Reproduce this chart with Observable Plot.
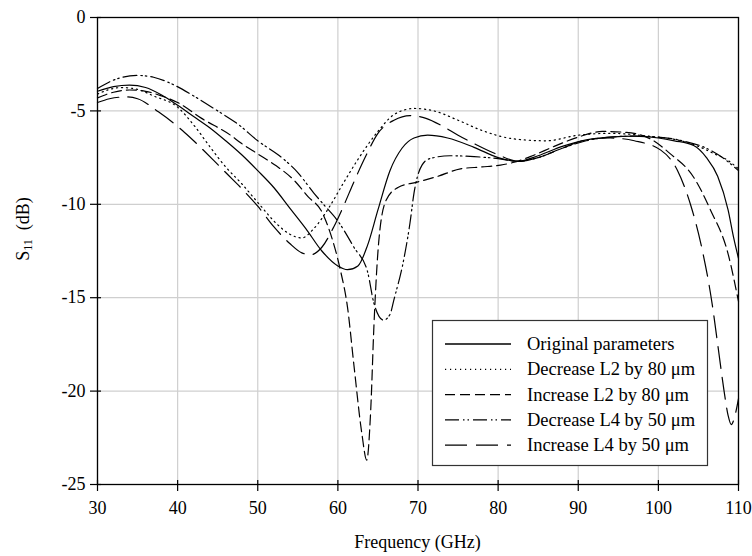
<!DOCTYPE html>
<html><head><meta charset="utf-8">
<script src="https://cdn.jsdelivr.net/npm/d3@7"></script>
<script src="https://cdn.jsdelivr.net/npm/@observablehq/plot@0.6"></script>
<style>
body{margin:0;background:#fff;}
#chart{position:relative;width:752px;height:556px;}
</style></head><body><div id="chart"></div>
<script>
// ---- data ----
const xTicks = [30, 40, 50, 60, 70, 80, 90, 100, 110];
const yTicks = [0, -5, -10, -15, -20, -25];
const seriesNames = ["Original parameters", "Decrease L2 by 80 μm", "Increase L2 by 80 μm", "Decrease L4 by 50 μm", "Increase L4 by 50 μm"];

const origF = [30, 32, 34, 36, 38, 40, 42, 44, 46, 48, 50, 52, 54, 56, 58, 60, 61.2, 62.5, 63.7, 65, 66.5, 68, 69.5, 71.2, 73.7, 77, 80, 82.5, 85, 88, 91, 94, 97, 100, 102, 104.4, 106, 107.4, 108.7, 109.4, 110];
const origS = [-3.95, -3.7, -3.62, -3.75, -4.15, -4.7, -5.3, -5.9, -6.6, -7.35, -8.2, -9.1, -10.2, -11.3, -12.5, -13.3, -13.5, -13.3, -12.2, -10.3, -8.2, -7.0, -6.45, -6.3, -6.45, -6.95, -7.5, -7.7, -7.4, -6.9, -6.55, -6.4, -6.35, -6.45, -6.6, -6.85, -7.5, -8.5, -10.3, -11.8, -12.9];

const decL2F = [30, 31.5, 33, 35, 37, 40, 42, 44, 46, 48, 50, 52.5, 54, 55.5, 57, 59, 60.5, 62.5, 65, 67, 69.5, 72, 75, 78, 82, 86, 90, 94, 98.7, 102.8, 105, 107, 108.5, 110];
const decL2S = [-4.1, -3.85, -3.75, -3.85, -4.2, -4.8, -5.75, -6.9, -8.0, -8.9, -9.9, -11.1, -11.6, -11.8, -11.3, -10.1, -9.0, -7.6, -6.1, -5.2, -4.87, -5.0, -5.5, -6.05, -6.5, -6.6, -6.3, -6.2, -6.35, -6.6, -6.9, -7.3, -7.6, -8.1];

const incL2F = [30, 32, 34, 36, 38, 40, 43, 46.6, 48, 50, 52, 54.5, 56.3, 58, 59.1, 60.3, 61.2, 62, 63, 63.6, 64.1, 64.5, 65.1, 66, 67.5, 70, 72.5, 75.3, 78, 80.3, 82, 84, 87, 90, 93, 96, 99, 101.5, 104.4, 106.5, 108.7, 110];
const incL2S = [-4.3, -4.0, -3.88, -3.95, -4.2, -4.55, -5.4, -6.3, -6.75, -7.3, -7.85, -8.7, -9.6, -10.4, -11.6, -13.5, -15.5, -18.6, -22.3, -23.7, -21.0, -16.5, -12.0, -9.8, -9.1, -8.8, -8.5, -8.1, -8.0, -7.9, -7.75, -7.45, -6.9, -6.4, -6.1, -6.15, -6.5, -7.3, -8.55, -10.3, -12.65, -15.2];

const decL4F = [30, 32, 35, 37, 39.5, 42, 45, 47.5, 50, 53, 55, 57, 58.2, 60, 62, 63.7, 64.5, 65.7, 66.5, 67, 68.2, 69, 69.5, 70.5, 71.5, 74, 77, 80, 82.5, 85, 88, 91, 94, 97, 100, 103, 106, 108, 110];
const decL4S = [-3.8, -3.35, -3.1, -3.2, -3.6, -4.2, -5.0, -5.7, -6.6, -7.5, -8.3, -9.4, -10.0, -10.9, -12.3, -13.6, -15.3, -16.2, -15.9, -15.1, -13.0, -11.0, -9.4, -7.9, -7.55, -7.4, -7.45, -7.55, -7.7, -7.5, -7.0, -6.6, -6.4, -6.35, -6.4, -6.6, -7.0, -7.5, -8.2];

const incL4F = [30, 31.5, 33.5, 35, 37.6, 40.6, 42, 44.5, 46, 48.2, 50, 52, 54, 55.5, 56.6, 58, 59.5, 60.7, 62, 63.5, 65, 67, 69, 71, 73, 75, 77, 80, 82.5, 85, 88, 91, 94, 97, 100.3, 102.4, 104, 105.3, 106.7, 107.5, 108.2, 108.7, 109.1, 109.5, 110];
const incL4S = [-4.55, -4.35, -4.25, -4.35, -5.05, -6.05, -6.6, -7.65, -8.3, -9.25, -10.1, -11.2, -12.1, -12.6, -12.7, -12.3, -11.2, -10.1, -8.8, -7.4, -6.2, -5.5, -5.25, -5.4, -5.8, -6.3, -6.75, -7.35, -7.7, -7.5, -7.0, -6.55, -6.45, -6.6, -7.1, -8.2, -10.0, -12.1, -15.3, -17.8, -20.0, -21.3, -21.8, -21.4, -20.4];

// ---- styles ----
const dashes = [null, "1.2,3.8", "10,5", "14,4,1.5,3,1.5,4", "22,9"];
const font = "'Liberation Serif','Times New Roman',serif";
const xDomain = [30, 110], yDomain = [-25, 0];

const series = [
  [origF, origS], [decL2F, decL2S], [incL2F, incL2S], [decL4F, decL4S], [incL4F, incL4S]
].map(([F, S], k) => ({name: seriesNames[k], dash: dashes[k], rows: F.map((f, i) => ({f, s: S[i]}))}));

const svg = Plot.plot({
  width: 752, height: 556,
  marginTop: 17, marginBottom: 72, marginLeft: 97, marginRight: 14,
  style: {fontFamily: font, fontSize: "18px", background: "#fff", color: "#000"},
  x: {domain: xDomain},
  y: {domain: yDomain},
  marks: [
    Plot.gridX(xTicks, {stroke: "#cfcfcf", strokeOpacity: 1, strokeWidth: 1.2}),
    Plot.gridY(yTicks, {stroke: "#cfcfcf", strokeOpacity: 1, strokeWidth: 1.2}),
    ...series.map(sr => Plot.line(sr.rows, {x: "f", y: "s", curve: "monotone-x", stroke: "#000", strokeWidth: 1.2, strokeDasharray: sr.dash})),
    Plot.frame({stroke: "#000", strokeWidth: 1.3}),
    Plot.ruleX(xTicks, {x: d => d, y1: yDomain[0], y2: yDomain[0], insetTop: -4, insetBottom: -7, stroke: "#000", strokeWidth: 1.2}),
    Plot.ruleY(yTicks, {y: d => d, x1: xDomain[0], x2: xDomain[0], insetLeft: -7, insetRight: -4, stroke: "#000", strokeWidth: 1.2}),
    Plot.axisX(xTicks, {tickSize: 0, tickPadding: 17, tickFormat: d => String(d), label: null, fontSize: 18}),
    Plot.axisY(yTicks, {tickSize: 0, tickPadding: 12, tickFormat: d => String(d), label: null, fontSize: 18})
  ]
});
document.getElementById("chart").appendChild(svg);

const s = d3.select(svg);
// axis titles
s.append("text").attr("x", 417.5).attr("y", 548).attr("text-anchor", "middle")
  .style("font-family", font).style("font-size", "18px").attr("fill", "#000").text("Frequency (GHz)");
const yl = s.append("text").attr("transform", "translate(29,229) rotate(-90)").attr("text-anchor", "middle")
  .style("font-family", font).style("font-size", "18px").attr("fill", "#000");
yl.append("tspan").text("S");
yl.append("tspan").attr("baseline-shift", "-25%").style("font-size", "12px").text("11");
yl.append("tspan").text("  (dB)");

// legend
const lg = s.append("g");
lg.append("rect").attr("x", 432.5).attr("y", 320.5).attr("width", 275).attr("height", 145)
  .attr("fill", "#fff").attr("stroke", "#333").attr("stroke-width", 1.2);
series.forEach((sr, i) => {
  const y = 344 + i * 25.3;
  lg.append("line").attr("x1", 445).attr("x2", 511).attr("y1", y).attr("y2", y)
    .attr("stroke", "#000").attr("stroke-width", 1.3).attr("stroke-dasharray", sr.dash);
  lg.append("text").attr("x", 527).attr("y", y + 6).attr("text-anchor", "start")
    .style("font-family", font).style("font-size", "18.5px")
    .attr("fill", "#000").text(sr.name);
});
</script></body></html>
